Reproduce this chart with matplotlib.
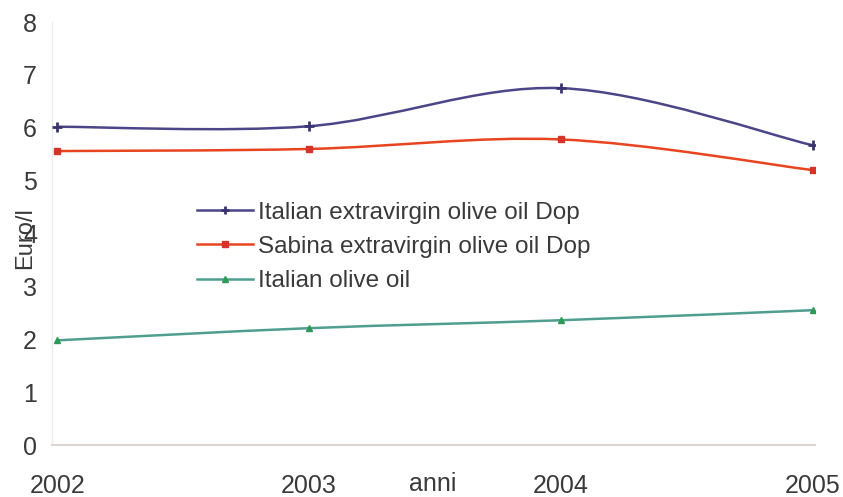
import matplotlib
matplotlib.use("Agg")
import matplotlib.pyplot as plt
from matplotlib.path import Path
from matplotlib.patches import PathPatch
from matplotlib.lines import Line2D
import numpy as np

years = [2002, 2003, 2004, 2005]
italian_evo_dop = [6.02, 6.03, 6.75, 5.67]
sabina_evo_dop = [5.56, 5.60, 5.78, 5.20]
italian_olive_oil = [1.98, 2.21, 2.36, 2.55]
series_names = ["Italian extravirgin olive oil Dop",
                "Sabina extravirgin olive oil Dop",
                "Italian olive oil"]
yticks = [0, 1, 2, 3, 4, 5, 6, 7, 8]

num_font = ["Liberation Sans", "DejaVu Sans"]
txt_font = ["Liberation Sans", "DejaVu Sans"]

fig = plt.figure(figsize=(8.43, 4.97), dpi=100)
ax = fig.add_axes([0.062, 0.1046, 0.905, 0.851])


def smooth_path(xs, ys, t=1/6):
    xs = np.asarray(xs, float)
    ys = np.asarray(ys, float)
    n = len(xs)
    verts = [(xs[0], ys[0])]
    codes = [Path.MOVETO]
    for i in range(n - 1):
        p0 = (xs[max(i - 1, 0)], ys[max(i - 1, 0)])
        p1 = (xs[i], ys[i])
        p2 = (xs[i + 1], ys[i + 1])
        p3 = (xs[min(i + 2, n - 1)], ys[min(i + 2, n - 1)])
        c1 = (p1[0] + (p2[0] - p0[0]) * t, p1[1] + (p2[1] - p0[1]) * t)
        c2 = (p2[0] - (p3[0] - p1[0]) * t, p2[1] - (p3[1] - p1[1]) * t)
        verts += [c1, c2, p2]
        codes += [Path.CURVE4] * 3
    return Path(verts, codes)


styles = [
    dict(color="#4a4688", marker="+", mfc="#3a3570", mec="#3a3570", ms=7, mew=2),
    dict(color="#e8441f", marker="s", mfc="#d8332a", mec="#d8332a", ms=5, mew=1),
    dict(color="#4f9e90", marker="^", mfc="#2e9a5a", mec="#2e9a5a", ms=5, mew=1),
]
data = [italian_evo_dop, sabina_evo_dop, italian_olive_oil]

handles = []
for vals, st, name in zip(data, styles, series_names):
    patch = PathPatch(smooth_path(years, vals), fill=False,
                      edgecolor=st["color"], lw=1.8, zorder=3)
    ax.add_patch(patch)
    ax.plot(years, vals, linestyle="none", marker=st["marker"],
            mfc=st["mfc"], mec=st["mec"], ms=st["ms"], mew=st["mew"], zorder=4)
    handles.append(Line2D([], [], color=st["color"], lw=1.8,
                          marker=st["marker"], mfc=st["mfc"], mec=st["mec"],
                          ms=st["ms"] - 1, mew=st["mew"], label=name))

ax.set_xlim(2001.98, 2005.01)
ax.set_ylim(0, 8)
ax.set_yticks(yticks)
ax.set_xticks(years)
ax.set_yticklabels([str(v) for v in yticks], family=num_font, fontsize=18,
                   color="#3a3a3a")
ax.set_xticklabels([str(y) for y in years], family=num_font, fontsize=18,
                   color="#3a3a3a")
ax.tick_params(axis="both", length=0)
ax.tick_params(axis="y", pad=11)
ax.tick_params(axis="x", pad=21)

for side in ["top", "right"]:
    ax.spines[side].set_visible(False)
ax.spines["left"].set_color("#ececec")
ax.spines["left"].set_linewidth(1.0)
ax.spines["bottom"].set_color("#ddd5d0")
ax.spines["bottom"].set_linewidth(1.5)

ax.set_ylabel("Euro/l", family=num_font, fontsize=17, color="#3a3a3a")
ax.yaxis.label.set_verticalalignment("center")
ax.yaxis.set_label_coords(-0.036, 0.49)
ax.set_xlabel("anni", family=num_font, fontsize=18, color="#3a3a3a")
ax.xaxis.label.set_verticalalignment("center")
ax.xaxis.set_label_coords(0.499, -0.092)

leg = ax.legend(handles=handles, loc="upper left",
                bbox_to_anchor=(0.177, 0.598), frameon=False,
                prop={"family": txt_font, "size": 17.5}, handlelength=2.3,
                handletextpad=0.2, labelspacing=0.5, borderaxespad=0)
for t in leg.get_texts():
    t.set_color("#3a3a3a")

fig.savefig("out.png", dpi=100)
